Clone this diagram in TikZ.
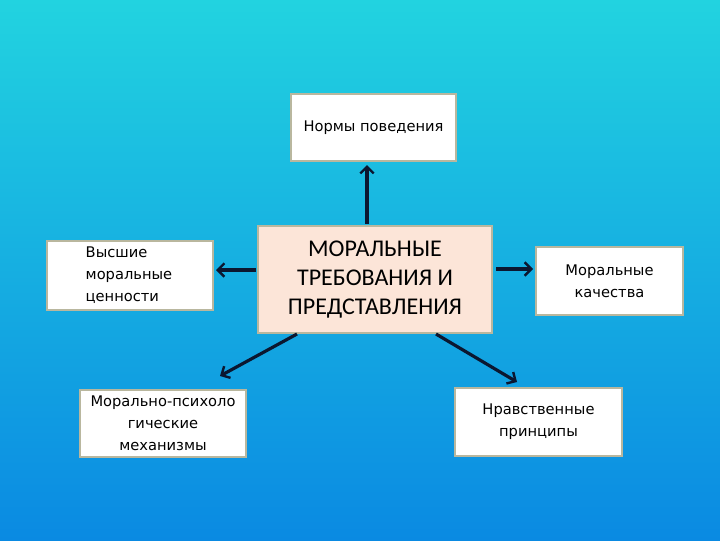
\documentclass[tikz,border=0pt]{standalone}
\usepackage{fontspec}
\setmainfont{DejaVu Sans}
\newfontfamily\bigfont{Carlito}
\usetikzlibrary{arrows.meta}
\definecolor{bgtop}{HTML}{22D3E0}
\definecolor{bgbot}{HTML}{0A8AE2}
\definecolor{boxline}{HTML}{B9B79E}
\definecolor{peach}{HTML}{FCE5D8}
\definecolor{arrowc}{HTML}{0B1730}
\tikzset{
  smallbox/.style={draw=boxline, line width=1.6pt, fill=white, inner sep=0pt, font=\fontsize{11}{16.5}\selectfont, align=center},
  bigbox/.style={draw=boxline, line width=1.6pt, fill=peach, inner sep=0pt, font=\bigfont\fontsize{18}{22}\selectfont, align=center},
  conn/.style={draw=arrowc, line width=2.4pt, -{Straight Barb[length=5pt,width=10pt,line width=1.8pt]}}
}
\begin{document}
\begin{tikzpicture}[x=0.75pt,y=-0.75pt]
\shade[top color=bgtop, bottom color=bgbot] (0,0) rectangle (720,540);
\useasboundingbox (0,0) rectangle (720,540);
\node[bigbox, minimum width=234*0.75pt, minimum height=107*0.75pt] (c) at (375,279.5) {МОРАЛЬНЫЕ\\ТРЕБОВАНИЯ И\\ПРЕДСТАВЛЕНИЯ};
\node[smallbox, minimum width=165*0.75pt, minimum height=67*0.75pt] (t) at (373.5,127.5) {Нормы поведения};
\node[smallbox, minimum width=166*0.75pt, minimum height=69*0.75pt] (l) at (130,275.5) {};
\node[font=\fontsize{11}{16.5}\selectfont, align=left, anchor=west] (lt) at (81,275.5) {Высшие\\моральные\\ценности};
\node[smallbox, minimum width=147*0.75pt, minimum height=68*0.75pt] (r) at (609.5,281) {Моральные\\качества};
\node[smallbox, minimum width=166*0.75pt, minimum height=67*0.75pt] (bl) at (163,423.5) {Морально-психоло\\гические\\механизмы};
\node[smallbox, minimum width=167*0.75pt, minimum height=68*0.75pt] (br) at (538.5,422) {Нравственные\\принципы};
\coordinate (cu) at (367,224);
\coordinate (tu) at (367,165);
\coordinate (cl) at (256,270);
\coordinate (ll) at (216,270);
\coordinate (cr) at (496,269);
\coordinate (rr) at (533,269);
\coordinate (cbl) at (297,334);
\coordinate (bla) at (220,376);
\coordinate (cbr) at (436,334);
\coordinate (bra) at (517,382);
\draw[conn] (cu) -- (tu);
\draw[conn] (cl) -- (ll);
\draw[conn] (cr) -- (rr);
\draw[conn] (cbl) -- (bla);
\draw[conn] (cbr) -- (bra);
\end{tikzpicture}
\end{document}
